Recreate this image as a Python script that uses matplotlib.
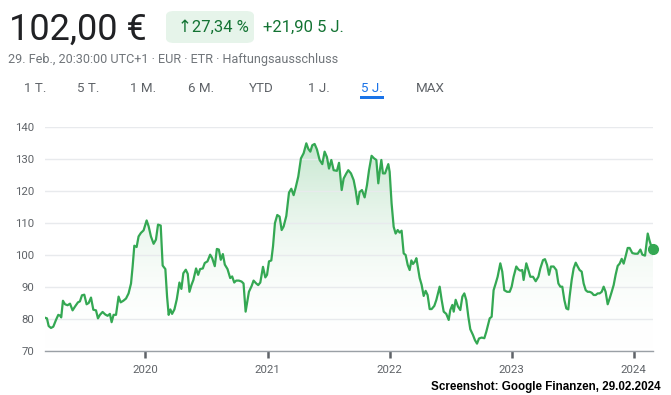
import numpy as np
import pandas as pd
import matplotlib
matplotlib.use('Agg')
import matplotlib.pyplot as plt
import matplotlib.dates as mdates
from matplotlib.colors import LinearSegmentedColormap
from matplotlib.patches import FancyBboxPatch

# price history (decimal year, EUR)
years = [
    2019.178, 2019.194, 2019.208, 2019.227, 2019.246, 2019.268, 2019.287, 2019.303, 2019.311, 2019.325,
    2019.342, 2019.363, 2019.383, 2019.404, 2019.426, 2019.448, 2019.464, 2019.481, 2019.500, 2019.519,
    2019.536, 2019.555, 2019.574, 2019.596, 2019.612, 2019.628, 2019.650, 2019.672, 2019.691, 2019.710,
    2019.724, 2019.740, 2019.760, 2019.781, 2019.798, 2019.820, 2019.842, 2019.863, 2019.883, 2019.896,
    2019.910, 2019.929, 2019.945, 2019.964, 2019.986, 2020.011, 2020.027, 2020.046, 2020.068, 2020.087,
    2020.104, 2020.126, 2020.142, 2020.164, 2020.178, 2020.191, 2020.205, 2020.219, 2020.238, 2020.257,
    2020.279, 2020.295, 2020.311, 2020.331, 2020.347, 2020.361, 2020.377, 2020.393, 2020.415, 2020.432,
    2020.448, 2020.470, 2020.486, 2020.508, 2020.530, 2020.546, 2020.568, 2020.585, 2020.601, 2020.617,
    2020.634, 2020.650, 2020.672, 2020.694, 2020.710, 2020.727, 2020.743, 2020.765, 2020.787, 2020.803,
    2020.820, 2020.831, 2020.847, 2020.869, 2020.885, 2020.907, 2020.923, 2020.940, 2020.962, 2020.981,
    2020.995, 2021.011, 2021.030, 2021.044, 2021.060, 2021.079, 2021.098, 2021.115, 2021.131, 2021.153,
    2021.175, 2021.194, 2021.213, 2021.230, 2021.251, 2021.273, 2021.295, 2021.317, 2021.333, 2021.350,
    2021.366, 2021.385, 2021.404, 2021.426, 2021.448, 2021.467, 2021.486, 2021.503, 2021.522, 2021.541,
    2021.568, 2021.585, 2021.607, 2021.623, 2021.645, 2021.661, 2021.683, 2021.705, 2021.721, 2021.738,
    2021.754, 2021.773, 2021.795, 2021.814, 2021.831, 2021.852, 2021.872, 2021.891, 2021.907, 2021.918,
    2021.932, 2021.945, 2021.962, 2021.989, 2022.000, 2022.016, 2022.033, 2022.049, 2022.066, 2022.082,
    2022.098, 2022.115, 2022.131, 2022.148, 2022.164, 2022.178, 2022.191, 2022.208, 2022.219, 2022.230,
    2022.246, 2022.262, 2022.279, 2022.295, 2022.311, 2022.328, 2022.344, 2022.366, 2022.383, 2022.399,
    2022.410, 2022.426, 2022.443, 2022.464, 2022.484, 2022.497, 2022.514, 2022.525, 2022.541, 2022.560,
    2022.579, 2022.596, 2022.612, 2022.628, 2022.645, 2022.661, 2022.683, 2022.699, 2022.716, 2022.732,
    2022.754, 2022.776, 2022.792, 2022.809, 2022.820, 2022.836, 2022.852, 2022.869, 2022.885, 2022.907,
    2022.923, 2022.940, 2022.962, 2022.984, 2023.000, 2023.016, 2023.038, 2023.055, 2023.071, 2023.087,
    2023.098, 2023.120, 2023.137, 2023.153, 2023.175, 2023.197, 2023.219, 2023.235, 2023.257, 2023.273,
    2023.290, 2023.306, 2023.322, 2023.344, 2023.366, 2023.383, 2023.399, 2023.415, 2023.432, 2023.448,
    2023.464, 2023.475, 2023.492, 2023.508, 2023.525, 2023.541, 2023.557, 2023.574, 2023.590, 2023.607,
    2023.623, 2023.639, 2023.656, 2023.672, 2023.689, 2023.705, 2023.721, 2023.738, 2023.754, 2023.770,
    2023.787, 2023.803, 2023.820, 2023.836, 2023.852, 2023.869, 2023.885, 2023.902, 2023.918, 2023.934,
    2023.951, 2023.967, 2023.989, 2024.011, 2024.033, 2024.055, 2024.071, 2024.093, 2024.115, 2024.131,
    2024.145, 2024.158,
]
prices = [
    80.4, 80.2, 77.8, 77.2, 77.6, 79.7, 81.3, 81.0, 80.5, 85.7,
    84.6, 84.3, 84.8, 82.7, 84.0, 85.2, 85.5, 87.4, 87.6, 84.6,
    85.0, 86.7, 82.9, 82.7, 80.2, 81.3, 82.2, 81.4, 81.0, 81.6,
    79.0, 81.3, 81.3, 87.0, 85.2, 85.7, 86.4, 88.0, 91.1, 96.3,
    102.9, 102.5, 105.8, 106.9, 107.7, 110.8, 109.0, 105.8, 103.5, 104.8,
    109.5, 109.2, 96.7, 95.6, 87.0, 81.3, 83.0, 81.6, 83.0, 86.1,
    91.4, 89.4, 94.3, 95.4, 94.1, 88.5, 90.6, 92.2, 95.8, 93.8,
    95.6, 95.8, 97.5, 98.0, 100.1, 99.1, 96.5, 101.9, 101.7, 98.5,
    100.3, 97.0, 95.6, 92.8, 93.3, 91.4, 92.0, 92.0, 91.7, 91.1,
    82.3, 84.9, 88.5, 90.3, 92.0, 91.1, 90.6, 91.4, 96.3, 93.0,
    93.8, 98.0, 98.3, 102.7, 110.0, 112.5, 112.0, 107.8, 108.9, 112.2,
    119.5, 120.7, 118.7, 121.1, 124.5, 130.2, 131.8, 134.9, 133.2, 132.3,
    134.3, 134.7, 133.0, 129.7, 128.4, 132.3, 130.6, 127.0, 129.7, 126.5,
    126.3, 128.8, 120.3, 123.9, 125.5, 126.5, 125.5, 123.4, 120.3, 115.9,
    119.7, 120.3, 118.0, 121.8, 126.5, 131.0, 130.2, 129.7, 122.4, 126.0,
    129.7, 125.5, 125.5, 128.4, 126.0, 116.1, 108.8, 106.7, 107.8, 107.0,
    107.6, 100.5, 100.0, 96.9, 95.3, 98.3, 97.2, 98.0, 99.0, 96.4,
    92.8, 90.7, 87.2, 88.8, 87.5, 83.1, 83.1, 84.1, 86.0, 88.5,
    90.1, 86.0, 82.3, 81.6, 79.7, 82.8, 84.4, 82.3, 86.0, 83.9,
    82.8, 87.0, 88.0, 85.9, 80.7, 76.8, 75.0, 73.4, 72.3, 73.9,
    74.2, 74.0, 76.0, 78.6, 80.2, 80.7, 89.0, 91.1, 93.2, 97.4,
    94.8, 89.0, 88.5, 88.5, 90.1, 93.2, 96.4, 95.5, 95.1, 95.3,
    92.2, 97.4, 95.3, 93.2, 93.2, 91.8, 93.2, 95.8, 98.4, 98.7,
    96.9, 93.8, 96.4, 96.4, 95.3, 91.1, 90.1, 90.1, 85.9, 83.3,
    83.0, 87.0, 92.2, 95.8, 97.6, 96.4, 95.3, 94.8, 91.1, 89.0,
    88.5, 88.5, 88.2, 87.5, 87.5, 88.0, 88.0, 88.5, 90.1, 88.5,
    84.6, 86.4, 88.5, 90.6, 93.8, 96.6, 97.3, 98.8, 97.3, 99.6,
    102.2, 102.2, 100.6, 100.4, 100.4, 101.7, 100.1, 99.8, 106.7, 104.3,
    102.6, 102.0,
]
year_ticks = [2020, 2021, 2022, 2023, 2024]
y_ticks = [70, 80, 90, 100, 110, 120, 130, 140]
tabs = ['1 T.', '5 T.', '1 M.', '6 M.', 'YTD', '1 J.', '5 J.', 'MAX']
active_tab = '5 J.'

GREEN = '#34a853'
DARK_GREEN = '#137333'
GREY = '#5f6368'
FONT = ['Roboto', 'DejaVu Sans']

W, H = 671, 395


def px(x, y):
    return x / W, 1 - y / H


def dec_to_date(y):
    yr = int(y)
    start = pd.Timestamp(yr, 1, 1)
    end = pd.Timestamp(yr + 1, 1, 1)
    return start + (y - yr) * (end - start)


dates = [dec_to_date(y) for y in years]
xnum = mdates.date2num(dates)

plt.rcParams['font.family'] = FONT
fig = plt.figure(figsize=(W / 100, H / 100), dpi=100)
fig.patch.set_facecolor('white')

# header
fig.text(*px(9, 40), '102,00 €', fontsize=26, color='#202124', va='baseline', ha='left')
pill = FancyBboxPatch(px(166, 43), 88 / W, 32 / H, boxstyle='round,pad=0,rounding_size=0.012',
                      transform=fig.transFigure, facecolor='#e6f4ea', edgecolor='none')
fig.patches.append(pill)
fig.text(*px(178, 32), '↑27,34 %', fontsize=12, color=DARK_GREEN, va='baseline', ha='left')
fig.text(*px(263, 32), '+21,90 5 J.', fontsize=12, color=DARK_GREEN, va='baseline', ha='left')
fig.text(*px(8, 63), '29. Feb., 20:30:00 UTC+1 · EUR · ETR · Haftungsausschluss',
         fontsize=9.1, color='#70757a', va='baseline', ha='left')

tab_x = [24, 77, 130, 188, 249, 308, 361, 416]
for t, x in zip(tabs, tab_x):
    col = '#1a73e8' if t == active_tab else GREY
    fig.text(*px(x, 92), t, fontsize=9.6, color=col, va='baseline', ha='left')
fig.patches.append(plt.Rectangle(px(360, 99), 24 / W, 2.5 / H, transform=fig.transFigure,
                                 facecolor='#1a73e8', edgecolor='none'))

# chart
ax = fig.add_axes([45 / W, 1 - 351 / H, (653 - 45) / W, (351 - 127) / H])
ax.set_xlim(xnum[0], xnum[-1])
ax.set_ylim(70, 140)

fill = ax.fill_between(xnum, prices, 70, facecolor='none', edgecolor='none')
cmap = LinearSegmentedColormap.from_list('fade', [(1, 1, 1, 0), (0.2, 0.66, 0.33, 0.32)])
grad = np.linspace(0, 1, 256).reshape(-1, 1)
im = ax.imshow(grad, extent=[xnum[0], xnum[-1], 70, 140], origin='lower',
               aspect='auto', cmap=cmap, zorder=1)
im.set_clip_path(fill.get_paths()[0], transform=ax.transData)

ax.plot(xnum, prices, color=GREEN, lw=1.6, zorder=3, solid_joinstyle='round')
ax.plot(xnum[-1], prices[-1], 'o', color=GREEN, ms=7, zorder=4, clip_on=False)

ax.set_yticks(y_ticks)
ax.set_yticklabels([str(v) for v in y_ticks])
ax.grid(axis='y', color='#e8eaed', lw=1, zorder=0)
ax.set_xticks(mdates.date2num([pd.Timestamp(y, 1, 1) for y in year_ticks]))
ax.set_xticklabels([str(y) for y in year_ticks])
ax.tick_params(axis='y', length=0, pad=8, labelsize=8.2, labelcolor=GREY)
ax.tick_params(axis='x', length=5, width=1.8, color=GREY, pad=5, labelsize=8.2, labelcolor=GREY)
for s in ['top', 'right', 'left']:
    ax.spines[s].set_visible(False)
ax.spines['bottom'].set_color('#9aa0a6')
ax.spines['bottom'].set_linewidth(1)
ax.set_facecolor('none')

fig.text(*px(661, 390), 'Screenshot: Google Finanzen, 29.02.2024', fontsize=8.4,
         fontweight='bold', family=['Liberation Sans', 'DejaVu Sans'],
         color='black', va='baseline', ha='right')

fig.savefig('out.png', dpi=100)
